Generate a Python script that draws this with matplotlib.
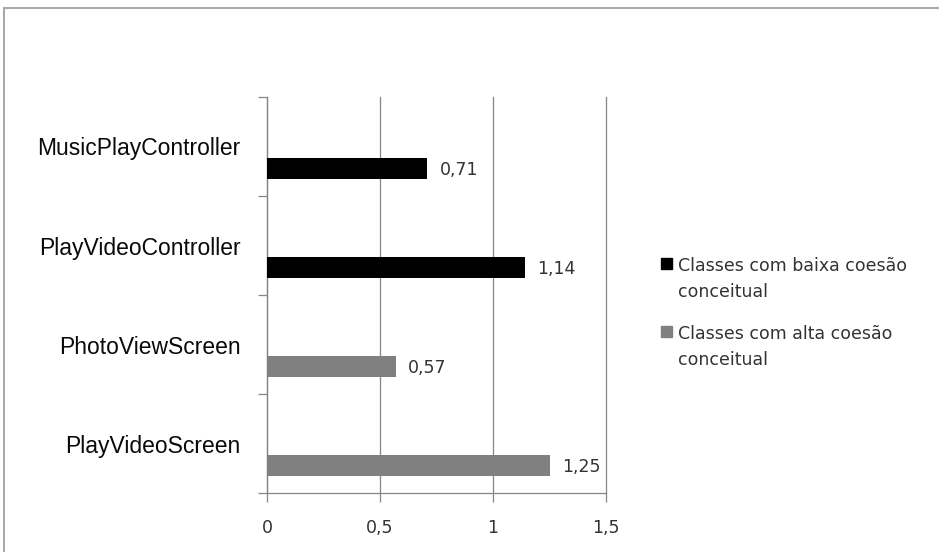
import matplotlib.pyplot as plt
from matplotlib.patches import Rectangle

# Valores por classe (de cima para baixo)
classes = ['MusicPlayController', 'PlayVideoController', 'PhotoViewScreen', 'PlayVideoScreen']
valores = [0.71, 1.14, 0.57, 1.25]
grupo = [0, 0, 1, 1]  # 0 = baixa coesão, 1 = alta coesão

series = ['Classes com baixa coesão\nconceitual', 'Classes com alta coesão\nconceitual']
cores = ['#000000', '#808080']
xticks = [0, 0.5, 1, 1.5]

fig = plt.figure(figsize=(9.39, 5.52), dpi=100)
ax = fig.add_axes([267 / 939, 59 / 552, 339 / 939, 396 / 552])

# Barras deslocadas para baixo dentro de cada faixa
pos = [i + 0.225 for i in range(len(classes))]
for p, v, g in zip(pos, valores, grupo):
    ax.barh(p, v, height=0.21, color=cores[g], zorder=3)
    ax.annotate(f'{v:.2f}'.replace('.', ','), xy=(v, p), xytext=(9, -1),
                textcoords='offset points', va='center', ha='left',
                fontsize=12.5, color='#333333', family='DejaVu Sans')

ax.set_xlim(0, 1.5)
ax.set_ylim(len(classes) - 0.5, -0.5)

# Grade vertical
ax.set_xticks(xticks)
ax.set_xticklabels([str(t).replace('.', ',') if t % 1 else str(int(t)) for t in xticks],
                   fontsize=12.5, color='#333333', family='DejaVu Sans')
ax.grid(axis='x', color='#868686', linewidth=0.9, zorder=0)
for gl in ax.get_xgridlines():
    gl.set_clip_on(False)
ax.tick_params(axis='x', direction='out', length=6.5, width=0.9, color='#868686', pad=12)

# Marcas nos limites das categorias, rótulos no centro
ax.set_yticks([i - 0.5 for i in range(len(classes) + 1)])
ax.set_yticklabels([])
ax.set_yticks(range(len(classes)), minor=True)
ax.set_yticklabels(classes, minor=True, fontsize=16.5, color='#0a0a0a', family='Liberation Sans')
ax.tick_params(axis='y', which='major', direction='out', length=6.5, width=0.9, color='#868686')
ax.tick_params(axis='y', which='minor', length=0, pad=19)

for s in ['top', 'right']:
    ax.spines[s].set_visible(False)
for s in ['left', 'bottom']:
    ax.spines[s].set_color('#868686')
    ax.spines[s].set_linewidth(0.9)

# Legenda desenhada à mão
for i, (nome, cor) in enumerate(zip(series, cores)):
    y0 = 1 - (264 + i * 68) / 552
    fig.add_artist(Rectangle((661 / 939, y0 - 5 / 552), 11 / 939, 11 / 552,
                             transform=fig.transFigure, color=cor))
    fig.text(678 / 939, y0 + 7 / 552, nome, va='top', ha='left', fontsize=12.5,
             color='#333333', family='DejaVu Sans', linespacing=1.55)

# Moldura externa do gráfico
fig.add_artist(Rectangle((4 / 939, -0.1), 1.1, 1.1 - 8 / 552, transform=fig.transFigure,
                         fill=False, edgecolor='#a6a6a6', linewidth=1.4))

fig.savefig('out.png', dpi=100)
